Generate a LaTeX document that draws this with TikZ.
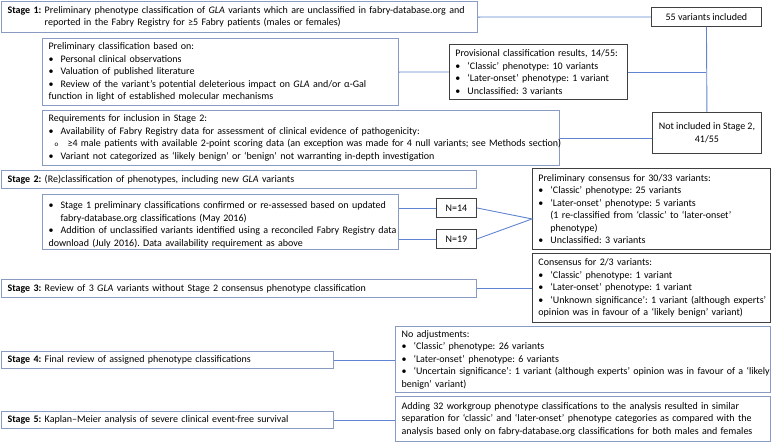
\documentclass[tikz,border=0pt]{standalone}
\usepackage{fontspec}
\setmainfont{Carlito}
\usepackage{tikz}
\definecolor{stageline}{RGB}{137,155,194}
\definecolor{resultline}{RGB}{64,64,64}
\definecolor{linkblue}{RGB}{96,132,208}
\newcommand{\bul}{\par\hangindent=12pt\hangafter=1\noindent\makebox[12pt][l]{•}}
\newcommand{\subbul}{\par\hangindent=19pt\hangafter=1\noindent\hspace*{6pt}\makebox[13pt][l]{\scriptsize o}}
\frenchspacing

\begin{document}
\begin{tikzpicture}[x=1pt, y=-1pt,
	stagebox/.style={draw=stageline, line width=1.1pt, anchor=north west, inner xsep=6pt, inner ysep=0pt, align=left, font=\fontsize{10}{12.5}\selectfont},
	resultbox/.style={stagebox, draw=resultline, line width=0.9pt},
	countbox/.style={resultbox, align=center, inner xsep=2pt},
	link/.style={draw=linkblue, line width=0.9pt}]
			\useasboundingbox (0,0) rectangle (772,442);
			\node[stagebox, text width=464pt, minimum height=31pt] (stage1) at (1,1) {\textbf{Stage 1:} \parbox[t]{424pt}{\mbox{Preliminary phenotype classification of \textit{GLA} variants which are unclassified in fabry-database.org and}\newline reported in the Fabry Registry for ≥5 Fabry patients (males or females)}};
			\node[countbox, minimum width=110pt, minimum height=19pt] (n55) at (651,7) {55 variants included};
			\node[stagebox, text width=344pt, minimum height=67pt] (prelim) at (42,38) {Preliminary classification based on:
				\bul Personal clinical observations
				\bul Valuation of published literature
				\bul Review of the variant’s potential deleterious impact on \textit{GLA} and/or α-Gal\newline function in light of established molecular mechanisms};
			\node[resultbox, text width=166pt, minimum height=55pt] (prov) at (449,44) {Provisional classification results, 14/55:
				\bul ‘Classic’ phenotype: 10 variants
				\bul ‘Later-onset’ phenotype: 1 variant
				\bul Unclassified: 3 variants};
			\node[stagebox, text width=505pt, minimum height=55pt] (req) at (42,110) {Requirements for inclusion in Stage 2:
				\bul Availability of Fabry Registry data for assessment of clinical evidence of pathogenicity:
				\subbul \mbox{≥4 male patients with available 2-point scoring data (an exception was made for 4 null variants; see Methods section)}
				\bul Variant not categorized as ‘likely benign’ or ‘benign’ not warranting in-depth investigation};
			\node[countbox, minimum width=109pt, minimum height=41pt] (notinc) at (652,112) {Not included in Stage 2,\\41/55};
			\node[stagebox, text width=463pt, minimum height=18pt] (stage2) at (1,170) {\textbf{Stage 2:} (Re)classification of phenotypes, including new \textit{GLA} variants};
			\node[stagebox, text width=344pt, minimum height=55pt] (s2sub) at (42,194) {\bul \mbox{Stage 1 preliminary classifications confirmed or re-assessed based on updated}\newline fabry-database.org classifications (May 2016)
				\bul \mbox{Addition of unclassified variants identified using a reconciled Fabry Registry data}\newline download (July 2016). Data availability requirement as above};
			\node[countbox, minimum width=40pt, minimum height=19pt] (n14) at (436,198) {N=14};
			\node[countbox, minimum width=40pt, minimum height=19pt] (n19) at (436,229) {N=19};
			\node[resultbox, text width=226pt, minimum height=81pt] (cons1) at (532,168) {Preliminary consensus for 30/33 variants:
				\bul ‘Classic’ phenotype: 25 variants
				\bul ‘Later-onset’ phenotype: 5 variants\newline (1 re-classified from ‘classic’ to ‘later-onset’\newline phenotype)
				\bul Unclassified: 3 variants};
			\node[stagebox, text width=463pt, minimum height=18pt] (stage3) at (1,279) {\textbf{Stage 3:} Review of 3 \textit{GLA} variants without Stage 2 consensus phenotype classification};
			\node[resultbox, text width=226pt, minimum height=69pt] (cons2) at (532,253) {Consensus for 2/3 variants:
				\bul ‘Classic’ phenotype: 1 variant
				\bul ‘Later-onset’ phenotype: 1 variant
				\bul \mbox{‘Unknown significance’: 1 variant (although experts’}\newline opinion was in favour of a ‘likely benign’ variant)};
			\node[stagebox, text width=320pt, minimum height=17pt] (stage4) at (1,351) {\textbf{Stage 4:} Final review of assigned phenotype classifications};
			\node[stagebox, text width=363pt, minimum height=66pt] (noadj) at (395,326) {No adjustments:
				\bul ‘Classic’ phenotype: 26 variants
				\bul ‘Later-onset’ phenotype: 6 variants
				\bul \mbox{‘Uncertain significance’: 1 variant (although experts’ opinion was in favour of a ‘likely}\newline benign’ variant)};
			\node[stagebox, text width=320pt, minimum height=17pt] (stage5) at (1,411) {\textbf{Stage 5:} Kaplan--Meier analysis of severe clinical event-free survival};
			\node[stagebox, text width=363pt, minimum height=45pt] (adding) at (395,396) {\mbox{Adding 32 workgroup phenotype classifications to the analysis resulted in similar}\newline \mbox{separation for ‘classic’ and ‘later-onset’ phenotype categories as compared with the}\newline \mbox{analysis based only on fabry-database.org classifications for both males and females}};
			\coordinate (merge) at ([yshift=-10pt]cons1.west);
			\draw[link] (stage1.east) -- (n55.west);
			\draw[link] (n55.south) -- (notinc.north);
			\draw[link] (prelim.east) -- (prov.west);
			\draw[link] (prov.east) -- (prov.east -| n55.south);
			\draw[link] (req.east) -- (req.east -| notinc.west);
			\draw[link] (n14.west -| s2sub.east) -- (n14.west);
			\draw[link] (n19.west -| s2sub.east) -- (n19.west);
			\draw[link] (n14.east) -- (merge) -- (n19.east);
			\draw[link] (stage3.east) -- (stage3.east -| cons2.west);
			\draw[link] (stage4.east) -- (stage4.east -| noadj.west);
			\draw[link] (stage5.east) -- (stage5.east -| adding.west);
\end{tikzpicture}
\end{document}
